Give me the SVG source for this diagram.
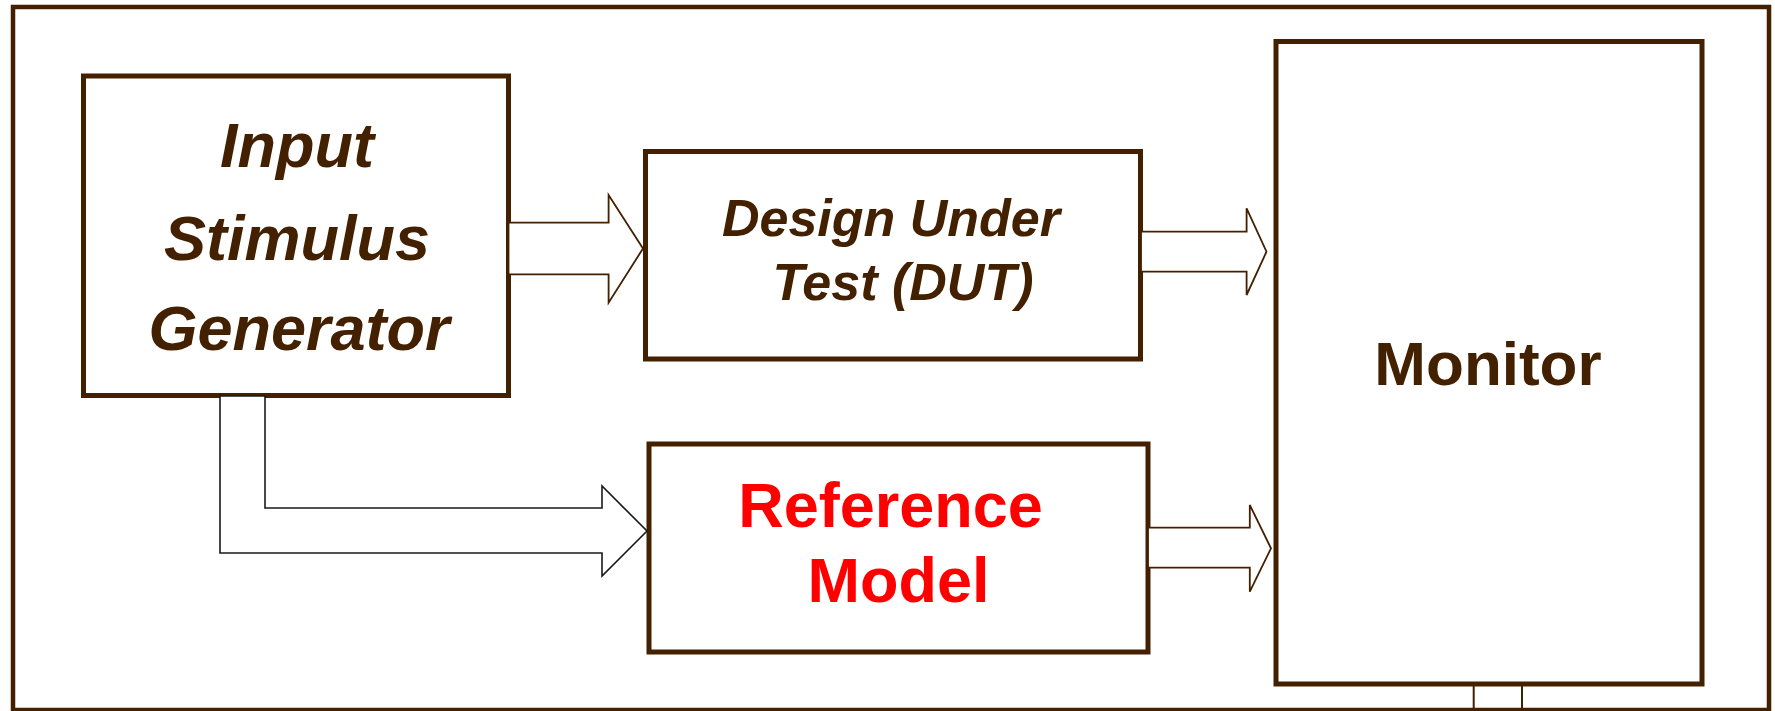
<svg xmlns="http://www.w3.org/2000/svg" width="1775" height="711" viewBox="0 0 1775 711">
  <style>
    .box { fill: #ffffff; stroke: #422000; stroke-width: 5; }
    .frame { fill: none; stroke: #422000; stroke-width: 4.5; }
    .arrow { fill: #ffffff; stroke: #422000; stroke-width: 1.8; stroke-linejoin: miter; }
    .arrow-k { fill: #ffffff; stroke: #1a1a1a; stroke-width: 1.6; stroke-linejoin: miter; }
    .tie { stroke: #422000; stroke-width: 2; fill: none; }
    .lbl { font-family: "Liberation Sans", Arial, sans-serif; font-weight: bold; text-anchor: middle; }
    .it { font-style: italic; fill: #422000; }
    .brown { fill: #422000; }
    .red { fill: #ff0000; }
  </style>

  <rect width="1775" height="711" fill="#ffffff"/>

  <!-- testbench enclosure -->
  <g id="testbench">
    <rect class="frame" x="13" y="7" width="1756" height="703"/>
  </g>

  <g id="stimulus">
    <rect class="box" x="83.5" y="76" width="425" height="319.5"/>
    <text class="lbl it" font-size="63" x="297" y="167">Input</text>
    <text class="lbl it" font-size="63" x="297" y="260">Stimulus</text>
    <text class="lbl it" font-size="63" x="299" y="350">Generator</text>
  </g>

  <g id="dut">
    <rect class="box" x="645.5" y="151.5" width="495" height="207.5"/>
    <text class="lbl it" font-size="52" x="891" y="236">Design Under</text>
    <text class="lbl it" font-size="52" x="903" y="300">Test (DUT)</text>
  </g>

  <g id="reference">
    <rect class="box" x="649" y="444" width="499" height="208"/>
    <text class="lbl red" font-size="63" x="890.5" y="527">Reference</text>
    <text class="lbl red" font-size="63" x="898.5" y="602">Model</text>
  </g>

  <g id="monitor">
    <rect class="box" x="1276" y="41.5" width="426" height="642.5"/>
    <text class="lbl brown" font-size="62" x="1488" y="385">Monitor</text>
  </g>

  <g id="connectors">
    <!-- stimulus to DUT -->
    <polygon class="arrow" points="508.5,222.7 608.6,222.7 608.6,195 643,248.5 608.6,302.7 608.6,274.3 508.5,274.3"/>
    <!-- stimulus to reference model -->
    <polygon class="arrow-k" points="220,396 265,396 265,508 602,508 602,486 647,531 602,576 602,553 220,553"/>
    <!-- DUT to monitor -->
    <polygon class="arrow" points="1141,231.7 1246.6,231.7 1246.6,208.3 1266.5,251.7 1246.6,295 1246.6,271.7 1141,271.7"/>
    <!-- reference model to monitor -->
    <polygon class="arrow" points="1148,527.7 1249.8,527.7 1249.8,505 1271,548.3 1249.8,591.7 1249.8,567.7 1148,567.7"/>
    <!-- monitor tie to enclosure -->
    <line class="tie" x1="1473.7" y1="686" x2="1473.7" y2="710"/>
    <line class="tie" x1="1522" y1="686" x2="1522" y2="710"/>
  </g>
</svg>
